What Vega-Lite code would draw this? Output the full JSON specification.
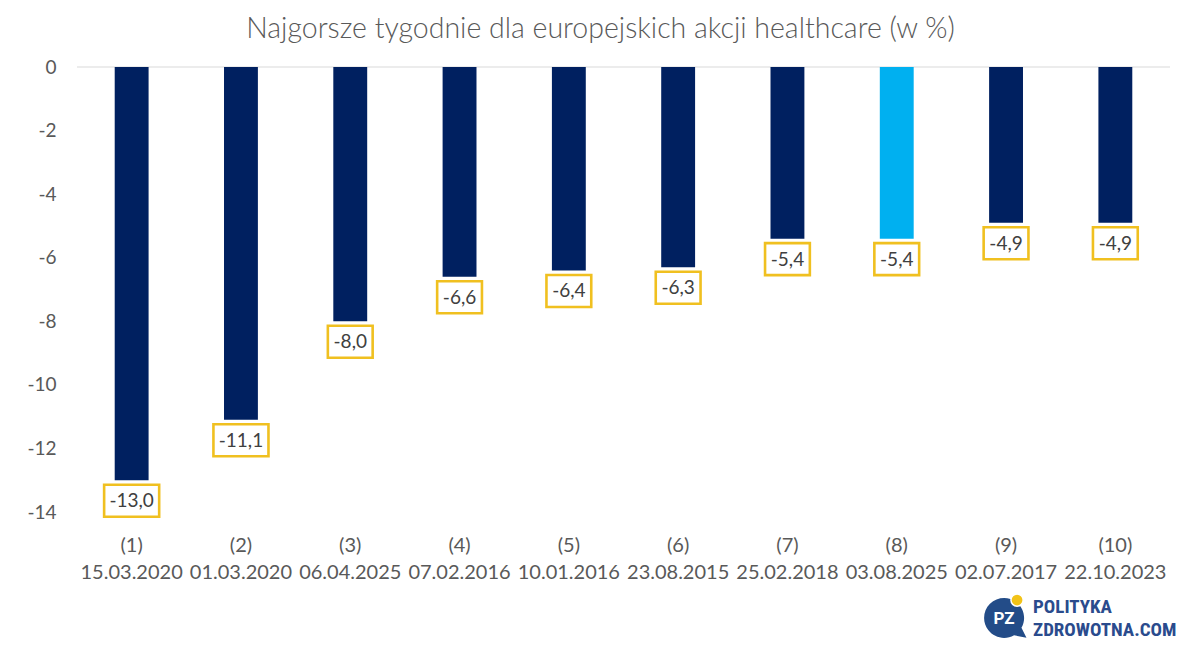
{
  "$schema": "https://vega.github.io/schema/vega-lite/v6.json",
  "width": 1093,
  "height": 445,
  "autosize": {"type": "none"},
  "padding": {"left": 77, "top": 67, "right": 30, "bottom": 134},
  "background": "white",
  "title": {
    "text": "Najgorsze tygodnie dla europejskich akcji healthcare (w %)",
    "font": "Lato",
    "fontSize": 28.5,
    "fontWeight": 300,
    "color": "#595959",
    "anchor": "middle",
    "dx": -23,
    "offset": 15
  },
  "config": {
    "view": {"stroke": null},
    "locale": {
      "number": {
        "decimal": ",",
        "thousands": " ",
        "grouping": [3],
        "currency": ["", " zł"],
        "minus": "-"
      }
    }
  },
  "data": {
    "values": [
      {"week": "(1) 15.03.2020", "value": -13.0},
      {"week": "(2) 01.03.2020", "value": -11.1},
      {"week": "(3) 06.04.2025", "value": -8.0},
      {"week": "(4) 07.02.2016", "value": -6.6},
      {"week": "(5) 10.01.2016", "value": -6.4},
      {"week": "(6) 23.08.2015", "value": -6.3},
      {"week": "(7) 25.02.2018", "value": -5.4},
      {"week": "(8) 03.08.2025", "value": -5.4},
      {"week": "(9) 02.07.2017", "value": -4.9},
      {"week": "(10) 22.10.2023", "value": -4.9}
    ]
  },
  "layer": [
    {
      "data": {"values": [{}]},
      "mark": {"type": "rule", "color": "#d9d9d9", "strokeWidth": 1.2},
      "encoding": {
        "y": {"datum": 0, "type": "quantitative", "scale": {"domain": [-14, 0], "nice": false}, "title": null}
      }
    },
    {
      "mark": {"type": "bar"},
      "encoding": {
        "x": {
          "field": "week",
          "type": "nominal",
          "sort": null,
          "scale": {"paddingInner": 0.69, "paddingOuter": 0.345},
          "title": null,
          "axis": {
            "labelExpr": "split(datum.value, ' ')",
            "labelFont": "Lato",
            "labelFontSize": 20,
            "labelColor": "#595959",
            "labelLineHeight": 27,
            "labelPadding": 23,
            "labelAngle": 0,
            "domain": false,
            "ticks": false,
            "grid": false
          }
        },
        "y": {
          "field": "value",
          "type": "quantitative",
          "scale": {"domain": [-14, 0], "nice": false},
          "title": null,
          "axis": {
            "values": [0, -2, -4, -6, -8, -10, -12, -14],
            "format": "d",
            "labelFont": "Lato",
            "labelFontSize": 19,
            "labelColor": "#595959",
            "labelPadding": 21,
            "domain": false,
            "ticks": false,
            "grid": false
          }
        },
        "color": {
          "condition": {"test": "datum.week === '(8) 03.08.2025'", "value": "#00B0F0"},
          "value": "#002060"
        }
      }
    },
    {
      "mark": {
        "type": "point",
        "filled": true,
        "fill": "white",
        "stroke": "#F0C020",
        "strokeWidth": 2.6,
        "size": 1024,
        "opacity": 1,
        "yOffset": 20.5
      },
      "encoding": {
        "x": {"field": "week", "type": "nominal", "sort": null, "title": null},
        "y": {"field": "value", "type": "quantitative", "title": null},
        "shape": {
          "condition": {"test": "datum.value <= -10", "value": "M-1.72,-1H1.72V1H-1.72Z"},
          "value": "M-1.4,-1H1.4V1H-1.4Z"
        }
      }
    },
    {
      "mark": {
        "type": "text",
        "font": "Lato",
        "fontSize": 19,
        "color": "#404040",
        "baseline": "middle",
        "align": "center",
        "yOffset": 21
      },
      "encoding": {
        "x": {"field": "week", "type": "nominal", "sort": null, "title": null},
        "y": {"field": "value", "type": "quantitative", "title": null},
        "text": {"field": "value", "type": "quantitative", "format": ".1f"}
      }
    },
    {
      "data": {"values": [{}]},
      "mark": {
        "type": "point",
        "filled": true,
        "color": "#234C88",
        "opacity": 1,
        "size": 1600,
        "shape": "M0.87,0.5L1.12,1L0.5,0.87A1,1 0 1,1 0.87,0.5Z",
        "xOffset": -2
      },
      "encoding": {
        "x": {"datum": "(9) 02.07.2017", "type": "nominal"},
        "y": {"datum": -17.33, "type": "quantitative"}
      }
    },
    {
      "data": {"values": [{}]},
      "mark": {
        "type": "point",
        "filled": true,
        "color": "#F2C318",
        "stroke": "white",
        "strokeWidth": 1.5,
        "opacity": 1,
        "size": 150,
        "shape": "circle",
        "xOffset": 11
      },
      "encoding": {
        "x": {"datum": "(9) 02.07.2017", "type": "nominal"},
        "y": {"datum": -16.77, "type": "quantitative"}
      }
    },
    {
      "data": {"values": [{}]},
      "mark": {
        "type": "text",
        "text": "PZ",
        "font": "Roboto",
        "fontWeight": "bold",
        "fontSize": 17,
        "color": "white",
        "align": "center",
        "baseline": "middle",
        "xOffset": -2
      },
      "encoding": {
        "x": {"datum": "(9) 02.07.2017", "type": "nominal"},
        "y": {"datum": -17.36, "type": "quantitative"}
      }
    },
    {
      "data": {"values": [{}]},
      "mark": {
        "type": "text",
        "text": ["POLITYKA", "ZDROWOTNA.COM"],
        "font": "Liberation Sans Narrow, Roboto Condensed, Roboto",
        "fontWeight": "bold",
        "fontSize": 19,
        "lineHeight": 23,
        "color": "#2A4B8D",
        "align": "left",
        "baseline": "middle",
        "xOffset": 27
      },
      "encoding": {
        "x": {"datum": "(9) 02.07.2017", "type": "nominal"},
        "y": {"datum": -17.0, "type": "quantitative"}
      }
    }
  ]
}
